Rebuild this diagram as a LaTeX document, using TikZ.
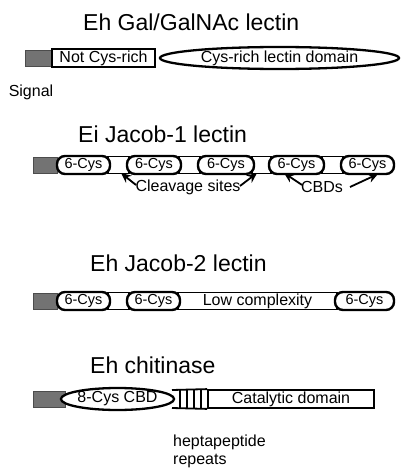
\documentclass[tikz,border=0pt]{standalone}
\usepackage{fontspec}
\setmainfont{Liberation Sans}
\usetikzlibrary{arrows.meta,shapes.geometric}
\begin{document}
\begin{tikzpicture}[x=1pt,y=-1pt,
 title/.style={font=\fontsize{23}{26}\selectfont, anchor=west, inner sep=0pt},
 lbl/.style={font=\fontsize{16}{18}\selectfont, inner sep=0pt},
 sig/.style={fill=black!55, draw=black!70, line width=0.6pt, minimum height=16pt, inner sep=0pt},
 dom/.style={draw=black, line width=1.8pt, fill=white, minimum height=17pt, inner sep=0pt, font=\fontsize{16}{18}\selectfont},
 pill/.style={draw=black, line width=2.4pt, fill=white, rounded corners=8pt, minimum height=18pt, inner sep=0pt, font=\fontsize{14.5}{17}\selectfont},
 oval/.style={ellipse, draw=black, line width=2.3pt, fill=white, inner sep=0pt, font=\fontsize{16}{18}\selectfont},
 arr/.style={line width=1.8pt, -{Stealth[length=10pt,width=9pt,fill=black!40]}},
]
\useasboundingbox (0,0) rectangle (402,476);

% Row 1: Eh Gal/GalNAc lectin
\node[title] (t1) at (83,22) {Eh Gal/GalNAc lectin};
\node[sig, minimum width=27pt] (s1) at (38.5,58) {};
\node[dom, minimum width=103pt, minimum height=18pt] (b1) at (103.5,58) {Not Cys-rich};
\node[oval, minimum width=239pt, minimum height=22pt] (e1) at (279.5,58) {Cys-rich lectin domain};
\node[lbl] (sg) at (31,92) {Signal};

% Row 2: Ei Jacob-1 lectin
\node[title] (t2) at (78,134) {Ei Jacob-1 lectin};
\node[sig, minimum width=24pt] (s2) at (45,165) {};
\node[dom, minimum width=21pt] (k1) at (118.5,165) {};
\node[dom, minimum width=21pt] (k2) at (189.5,165) {};
\node[dom, minimum width=19pt] (k3) at (261.5,165) {};
\node[dom, minimum width=21pt] (k4) at (332.5,165) {};
\node[pill, minimum width=53pt] (p1) at (83.5,165) {6-Cys};
\node[pill, minimum width=54pt] (p2) at (154,165) {6-Cys};
\node[pill, minimum width=56pt] (p3) at (226,165) {6-Cys};
\node[pill, minimum width=55pt] (p4) at (296.5,165) {6-Cys};
\node[pill, minimum width=53pt] (p5) at (367.5,165) {6-Cys};
\node[lbl] (cl) at (188,187) {Cleavage sites};
\node[lbl] (cb) at (322,187) {CBDs};
\coordinate (a1t) at (136,185); \coordinate (a1h) at (121,173);
\coordinate (a2t) at (240,186); \coordinate (a2h) at (257,173);
\coordinate (a3t) at (302,185); \coordinate (a3h) at (284,173);
\coordinate (a4t) at (350,187); \coordinate (a4h) at (378,174);
\draw[arr] (a1t) -- (a1h);
\draw[arr] (a2t) -- (a2h);
\draw[arr] (a3t) -- (a3h);
\draw[arr] (a4t) -- (a4h);

% Row 3: Eh Jacob-2 lectin
\node[title] (t3) at (90,263) {Eh Jacob-2 lectin};
\node[sig, minimum width=24pt] (s3) at (45,301) {};
\node[dom, minimum width=21pt] (q1) at (118.5,301) {};
\node[dom, minimum width=159pt] (lc) at (257.5,301) {Low complexity};
\node[pill, minimum width=53pt] (r1) at (83.5,301) {6-Cys};
\node[pill, minimum width=53pt] (r2) at (153.5,301) {6-Cys};
\node[pill, minimum width=59pt] (r3) at (364.5,301) {6-Cys};

% Row 4: Eh chitinase
\node[title] (t4) at (90,365) {Eh chitinase};
\node[sig, minimum width=32pt] (s4) at (49,399) {};
\node[dom, minimum width=166pt, minimum height=18pt] (cat) at (291,399) {Catalytic domain};
\draw[line width=1.8pt] (172,390) -- (cat.north west) (172,408) -- (cat.south west);
\foreach \xx in {180,187,194,201} \draw[line width=1.3pt] (\xx,390) -- (\xx,408);
\node[oval, minimum width=109pt, minimum height=22pt] (e4) at (117.5,399) {8-Cys CBD};
\node[lbl, anchor=west] (hp) at (173,442) {heptapeptide};
\node[lbl, anchor=west] (rp) at (173,461) {repeats};
\end{tikzpicture}
\end{document}
